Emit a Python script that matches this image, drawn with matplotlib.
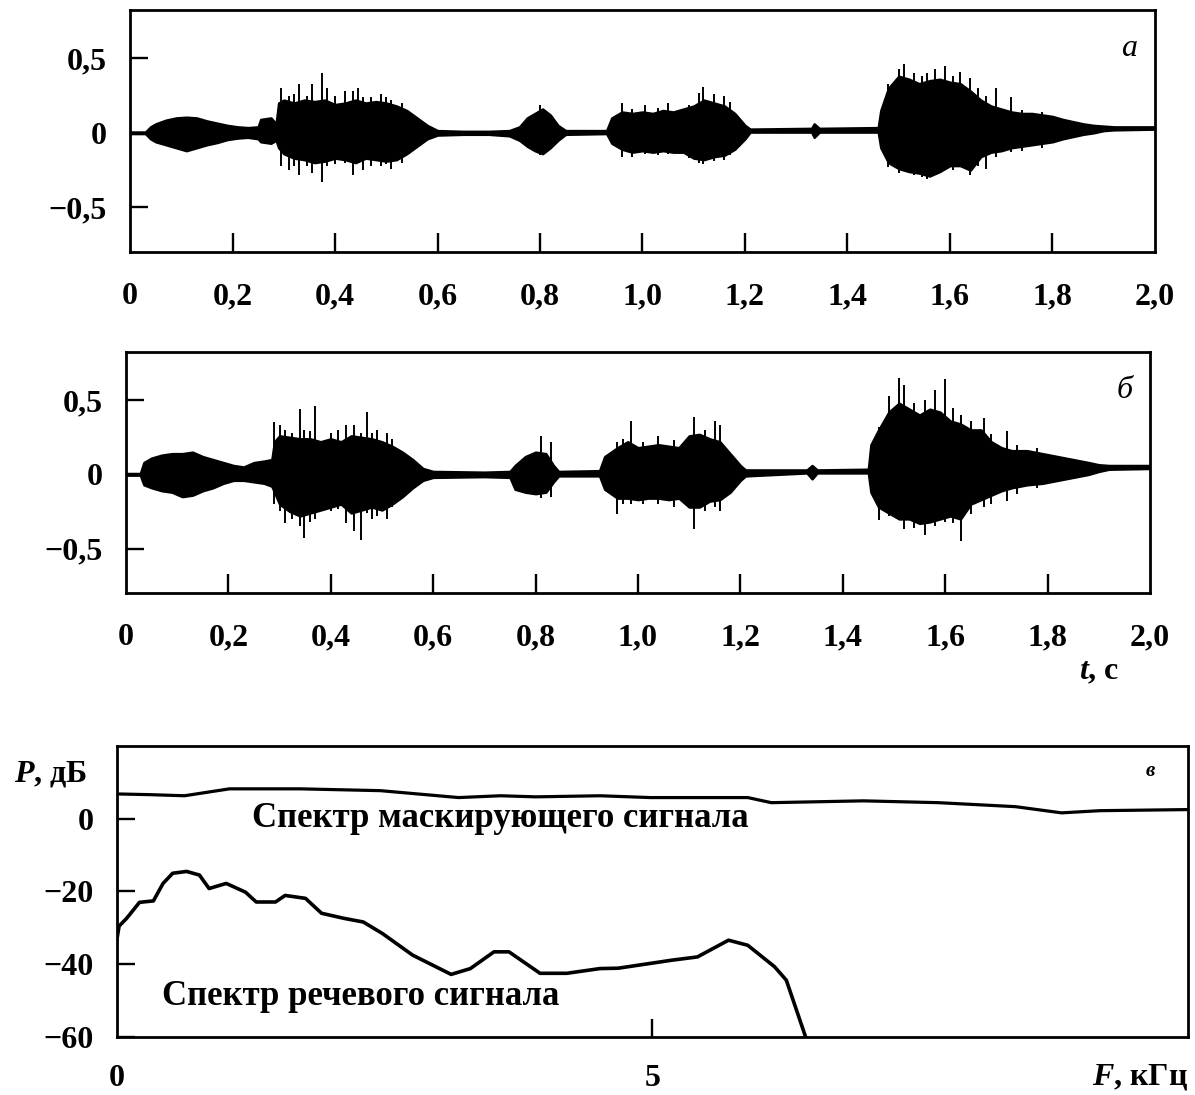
import matplotlib
matplotlib.use("Agg")
import matplotlib.pyplot as plt

# Waveform (a): envelope of the speech record, seconds / amplitude
t_a = [0.000, 0.030, 0.040, 0.050, 0.070, 0.090, 0.110, 0.130, 0.150, 0.170,
       0.190, 0.210, 0.230, 0.250, 0.255, 0.275, 0.285, 0.290, 0.300, 0.320,
       0.340, 0.360, 0.380, 0.400, 0.420, 0.440, 0.460, 0.480, 0.500, 0.520,
       0.540, 0.560, 0.580, 0.600, 0.650, 0.700, 0.740, 0.760, 0.775, 0.790,
       0.805, 0.820, 0.835, 0.850, 0.930, 0.940, 0.960, 0.980, 1.000, 1.020,
       1.040, 1.060, 1.080, 1.100, 1.120, 1.140, 1.160, 1.180, 1.200, 1.210,
       1.330, 1.335, 1.345, 1.460, 1.465, 1.480, 1.500, 1.520, 1.540, 1.560,
       1.580, 1.600, 1.620, 1.640, 1.660, 1.680, 1.700, 1.720, 1.740, 1.760,
       1.780, 1.800, 1.820, 1.840, 1.860, 1.880, 1.900, 1.920, 2.000]
up_a = [0.005, 0.005, 0.04, 0.06, 0.085, 0.10, 0.105, 0.10, 0.08, 0.065,
        0.05, 0.04, 0.035, 0.04, 0.09, 0.10, 0.06, 0.20, 0.22, 0.20,
        0.22, 0.21, 0.22, 0.19, 0.20, 0.22, 0.20, 0.21, 0.20, 0.18,
        0.15, 0.10, 0.05, 0.015, 0.01, 0.01, 0.015, 0.04, 0.10, 0.13,
        0.16, 0.12, 0.05, 0.015, 0.015, 0.10, 0.14, 0.13, 0.14, 0.13,
        0.15, 0.14, 0.16, 0.18, 0.22, 0.20, 0.18, 0.13, 0.05, 0.025,
        0.03, 0.06, 0.03, 0.035, 0.15, 0.30, 0.38, 0.36, 0.33, 0.35,
        0.36, 0.34, 0.33, 0.28, 0.22, 0.18, 0.16, 0.14, 0.13, 0.13,
        0.12, 0.11, 0.09, 0.075, 0.06, 0.05, 0.045, 0.04, 0.04]
lo_a = [-0.005, -0.005, -0.04, -0.06, -0.08, -0.10, -0.12, -0.10, -0.08, -0.065,
        -0.045, -0.035, -0.03, -0.04, -0.06, -0.07, -0.05, -0.10, -0.14, -0.17,
        -0.18, -0.20, -0.19, -0.17, -0.18, -0.20, -0.17, -0.18, -0.19, -0.18,
        -0.14, -0.09, -0.04, -0.015, -0.01, -0.01, -0.02, -0.05, -0.09, -0.12,
        -0.14, -0.10, -0.05, -0.01, -0.005, -0.07, -0.11, -0.13, -0.12, -0.13,
        -0.12, -0.13, -0.13, -0.17, -0.18, -0.16, -0.15, -0.11, -0.04, 0.005,
        0.005, -0.03, 0.005, 0.005, -0.10, -0.20, -0.24, -0.26, -0.27, -0.29,
        -0.26, -0.22, -0.22, -0.25, -0.16, -0.13, -0.12, -0.10, -0.09, -0.08,
        -0.07, -0.06, -0.04, -0.025, -0.01, 0.00, 0.015, 0.02, 0.025]
# single peaks standing out of the envelope
spk_t_a = [0.295, 0.310, 0.320, 0.330, 0.345, 0.356, 0.375, 0.385, 0.400, 0.420,
           0.435, 0.445, 0.455, 0.470, 0.490, 0.500, 0.510, 0.530, 0.800, 0.960,
           0.980, 1.005, 1.030, 1.050, 1.090, 1.110, 1.118, 1.140, 1.160, 1.170,
           1.480, 1.500, 1.510, 1.530, 1.545, 1.555, 1.570, 1.590, 1.605, 1.620,
           1.640, 1.655, 1.670, 1.690, 1.720, 1.740, 1.780]
spk_hi_a = [0.30, 0.25, 0.26, 0.33, 0.25, 0.33, 0.40, 0.30, 0.25, 0.28,
            0.28, 0.30, 0.24, 0.24, 0.26, 0.24, 0.22, 0.20, 0.19, 0.20,
            0.16, 0.19, 0.17, 0.20, 0.19, 0.27, 0.31, 0.26, 0.25, 0.21,
            0.33, 0.43, 0.46, 0.40, 0.38, 0.40, 0.43, 0.45, 0.38, 0.41,
            0.37, 0.30, 0.25, 0.30, 0.24, 0.15, 0.14]
spk_lo_a = [-0.22, -0.25, -0.22, -0.28, -0.22, -0.27, -0.33, -0.22, -0.21, -0.20,
            -0.28, -0.20, -0.25, -0.22, -0.22, -0.21, -0.24, -0.20, -0.15, -0.16,
            -0.16, -0.14, -0.15, -0.14, -0.17, -0.20, -0.21, -0.19, -0.18, -0.15,
            -0.23, -0.27, -0.25, -0.28, -0.30, -0.31, -0.26, -0.24, -0.25, -0.22,
            -0.28, -0.22, -0.24, -0.16, -0.13, -0.12, -0.10]

# Waveform (б): the same phrase with the masking signal added
t_b = [0.000, 0.028, 0.035, 0.050, 0.070, 0.090, 0.110, 0.130, 0.150, 0.170,
       0.190, 0.210, 0.230, 0.250, 0.270, 0.285, 0.290, 0.300, 0.320, 0.340,
       0.360, 0.380, 0.400, 0.420, 0.440, 0.460, 0.480, 0.500, 0.520, 0.540,
       0.560, 0.580, 0.600, 0.700, 0.750, 0.760, 0.780, 0.800, 0.820, 0.835,
       0.845, 0.925, 0.935, 0.960, 0.980, 1.000, 1.020, 1.040, 1.060, 1.080,
       1.100, 1.120, 1.140, 1.160, 1.180, 1.200, 1.210, 1.330, 1.340, 1.350,
       1.450, 1.455, 1.470, 1.490, 1.510, 1.530, 1.550, 1.570, 1.590, 1.610,
       1.630, 1.650, 1.670, 1.690, 1.710, 1.730, 1.760, 1.790, 1.820, 1.850,
       1.880, 1.900, 1.920, 2.000]
up_b = [0.005, 0.005, 0.08, 0.11, 0.13, 0.14, 0.14, 0.15, 0.12, 0.10,
        0.08, 0.06, 0.05, 0.08, 0.09, 0.10, 0.22, 0.26, 0.25, 0.24,
        0.24, 0.22, 0.24, 0.22, 0.26, 0.25, 0.24, 0.22, 0.19, 0.15,
        0.10, 0.04, 0.02, 0.015, 0.02, 0.06, 0.12, 0.15, 0.14, 0.06,
        0.02, 0.025, 0.12, 0.18, 0.22, 0.18, 0.19, 0.20, 0.19, 0.18,
        0.26, 0.27, 0.24, 0.22, 0.14, 0.06, 0.03, 0.03, 0.06, 0.03,
        0.035, 0.20, 0.30, 0.42, 0.48, 0.44, 0.40, 0.44, 0.42, 0.36,
        0.34, 0.30, 0.30, 0.22, 0.18, 0.16, 0.16, 0.14, 0.12, 0.10,
        0.08, 0.065, 0.06, 0.06]
lo_b = [-0.005, -0.005, -0.07, -0.09, -0.11, -0.12, -0.15, -0.14, -0.11, -0.09,
        -0.06, -0.04, -0.04, -0.05, -0.06, -0.08, -0.12, -0.20, -0.25, -0.28,
        -0.26, -0.24, -0.22, -0.20, -0.26, -0.24, -0.22, -0.24, -0.20, -0.15,
        -0.09, -0.04, -0.02, -0.015, -0.02, -0.10, -0.12, -0.13, -0.12, -0.05,
        -0.01, -0.01, -0.10, -0.16, -0.16, -0.17, -0.16, -0.16, -0.17, -0.16,
        -0.22, -0.22, -0.18, -0.17, -0.12, -0.04, -0.01, 0.01, -0.03, 0.01,
        0.01, -0.12, -0.22, -0.26, -0.30, -0.30, -0.33, -0.32, -0.30, -0.28,
        -0.30, -0.20, -0.17, -0.14, -0.11, -0.09, -0.07, -0.06, -0.04, -0.02,
        0.00, 0.02, 0.035, 0.04]
spk_t_b = [0.290, 0.300, 0.310, 0.325, 0.340, 0.347, 0.360, 0.370, 0.400, 0.415,
           0.430, 0.445, 0.460, 0.470, 0.480, 0.490, 0.510, 0.520, 0.810, 0.830,
           0.960, 0.970, 0.986, 1.010, 1.040, 1.070, 1.110, 1.130, 1.150, 1.160,
           1.470, 1.490, 1.510, 1.520, 1.540, 1.560, 1.580, 1.600, 1.615, 1.630,
           1.650, 1.675, 1.690, 1.720, 1.740, 1.780]
spk_hi_b = [0.35, 0.33, 0.30, 0.28, 0.44, 0.30, 0.29, 0.46, 0.28, 0.30,
            0.33, 0.33, 0.28, 0.42, 0.28, 0.30, 0.28, 0.24, 0.26, 0.22,
            0.22, 0.24, 0.36, 0.22, 0.26, 0.23, 0.39, 0.30, 0.36, 0.33,
            0.32, 0.53, 0.65, 0.60, 0.48, 0.50, 0.57, 0.64, 0.45, 0.40,
            0.36, 0.38, 0.27, 0.29, 0.20, 0.18]
spk_lo_b = [-0.20, -0.25, -0.33, -0.30, -0.35, -0.43, -0.32, -0.30, -0.25, -0.23,
            -0.33, -0.38, -0.44, -0.26, -0.30, -0.28, -0.30, -0.22, -0.16, -0.15,
            -0.27, -0.20, -0.20, -0.20, -0.20, -0.22, -0.37, -0.25, -0.22, -0.25,
            -0.31, -0.28, -0.30, -0.37, -0.36, -0.41, -0.35, -0.32, -0.33, -0.45,
            -0.27, -0.22, -0.20, -0.18, -0.13, -0.09]

# Spectra (в), kHz / dB
f_mask = [0.0, 0.31, 0.63, 1.05, 1.71, 2.46, 3.19, 3.58, 3.91, 4.51,
          4.98, 5.89, 6.11, 6.97, 7.67, 8.39, 8.82, 9.18, 10.0]
p_mask = [6.8, 6.6, 6.3, 8.2, 8.2, 7.7, 5.8, 6.3, 6.0, 6.3,
          5.8, 5.8, 4.4, 4.9, 4.4, 3.3, 1.6, 2.2, 2.5]
f_speech = [0.0, 0.02, 0.09, 0.21, 0.34, 0.43, 0.52, 0.65, 0.77, 0.86,
            1.02, 1.20, 1.30, 1.48, 1.57, 1.76, 1.91, 2.12, 2.30, 2.48,
            2.76, 3.12, 3.30, 3.52, 3.66, 3.95, 4.20, 4.51, 4.68, 5.18,
            5.42, 5.71, 5.89, 6.14, 6.25, 6.43]
p_speech = [-33.0, -29.5, -27.4, -23.0, -22.6, -17.8, -15.0, -14.5, -15.5, -19.2,
            -17.8, -20.2, -22.9, -22.9, -21.1, -21.9, -26.0, -27.4, -28.4, -31.6,
            -37.5, -42.8, -41.2, -36.6, -36.6, -42.5, -42.5, -41.2, -41.1, -38.9,
            -38.0, -33.4, -34.8, -40.7, -44.4, -60.0]

t_ticks = [0.2, 0.4, 0.6, 0.8, 1.0, 1.2, 1.4, 1.6, 1.8]
t_labels = ["0", "0,2", "0,4", "0,6", "0,8", "1,0", "1,2", "1,4", "1,6", "1,8", "2,0"]
t_label_pos = [0.0, 0.2, 0.4, 0.6, 0.8, 1.0, 1.2, 1.4, 1.6, 1.8, 2.0]
a_ticks = [-0.5, 0.0, 0.5]
a_labels = ["\u22120,5", "0", "0,5"]
p_ticks = [-60, -40, -20, 0]
p_labels = ["\u221260", "\u221240", "\u221220", "0"]

SERIF = ["Liberation Serif", "DejaVu Serif"]
FS = 23
W = "bold"


def style_axes(ax):
    for s in ax.spines.values():
        s.set_linewidth(2.0)
    ax.tick_params(direction="in", width=1.7, labelsize=FS)


def plot_wave(ax, t, up, lo, spk_t, spk_hi, spk_lo, letter, xlabel=False):
    ax.fill_between(t, lo, up, color="black", linewidth=1.8, edgecolor="black")
    ax.vlines(spk_t, spk_lo, spk_hi, color="black", linewidth=1.4)
    ax.set_xlim(0, 2.0)
    ax.set_ylim(-0.8, 0.825)
    style_axes(ax)
    ax.set_xticks(t_ticks)
    ax.set_xticklabels([])
    ax.tick_params(axis="x", length=14)
    ax.set_yticks(a_ticks)
    ax.set_yticklabels(a_labels, family=SERIF, weight=W)
    ax.tick_params(axis="y", length=13, pad=17)
    for x, lab in zip(t_label_pos, t_labels):
        ax.text(x, -1.1, lab, ha="center", va="center", fontsize=FS,
                family=SERIF, weight=W)
    ax.text(0.975, 0.84, letter, transform=ax.transAxes, ha="center",
            va="center", fontsize=FS, style="italic", family=SERIF)
    if xlabel:
        ax.text(1.90, -1.33, "$\\it{t}$, с", ha="center", va="center",
                fontsize=FS, family=SERIF, weight=W)


def plot_spectra(ax):
    ax.plot(f_mask, p_mask, color="black", linewidth=2.3)
    ax.plot(f_speech, p_speech, color="black", linewidth=2.6)
    ax.set_xlim(0, 10)
    ax.set_ylim(-60, 20)
    style_axes(ax)
    ax.set_xticks([5])
    ax.set_xticklabels([])
    ax.tick_params(axis="x", length=13)
    ax.set_yticks(p_ticks)
    ax.set_yticklabels(p_labels, family=SERIF, weight=W)
    ax.tick_params(axis="y", length=13, pad=17)
    ax.text(0.0, -71.5, "0", ha="center", va="center", fontsize=FS,
            family=SERIF, weight=W)
    ax.text(5.0, -71.5, "5", ha="center", va="center", fontsize=FS,
            family=SERIF, weight=W)
    ax.text(9.55, -71.0, "$\\it{F}$, кГц", ha="center", va="center",
            fontsize=FS, family=SERIF, weight=W)
    ax.text(-0.62, 12.3, "$\\it{P}$, дБ", ha="center", va="center",
            fontsize=FS, family=SERIF, weight=W)
    ax.text(9.65, 13.0, "в", ha="center", va="center", fontsize=15,
            style="italic", weight="bold", family=SERIF)
    ax.text(1.26, 0.0, "Спектр маскирующего сигнала", ha="left",
            va="center", fontsize=25, family=SERIF, weight=W)
    ax.text(0.42, -49.0, "Спектр речевого сигнала", ha="left",
            va="center", fontsize=25, family=SERIF, weight=W)


def main():
    plt.rcParams["mathtext.fontset"] = "custom"
    plt.rcParams["mathtext.it"] = "Liberation Serif:italic:bold"
    fig = plt.figure(figsize=(11.95, 10.95), dpi=100)
    ax_a = fig.add_axes([0.1088, 0.7699, 0.8577, 0.2210])
    ax_b = fig.add_axes([0.1054, 0.4584, 0.8569, 0.2201])
    ax_c = fig.add_axes([0.0979, 0.0530, 0.8962, 0.2658])

    plot_wave(ax_a, t_a, up_a, lo_a, spk_t_a, spk_hi_a, spk_lo_a, "a")
    plot_wave(ax_b, t_b, up_b, lo_b, spk_t_b, spk_hi_b, spk_lo_b, "б", xlabel=True)
    plot_spectra(ax_c)

    fig.savefig("out.png", dpi=100)


if __name__ == "__main__":
    main()
